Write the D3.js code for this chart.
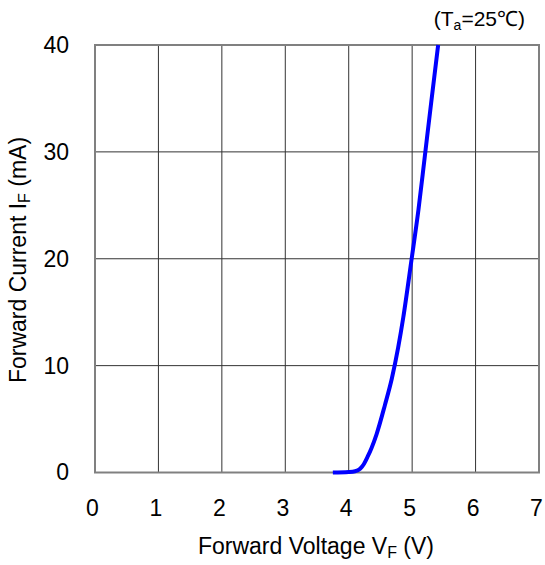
<!DOCTYPE html>
<html><head><meta charset="utf-8">
<script src="https://cdn.jsdelivr.net/npm/d3@7"></script>
<style>body{margin:0;background:#fff;} text{font-family:"Liberation Sans",Arial,sans-serif;fill:#000;}</style>
</head><body>
<svg id="c" width="545" height="565"></svg>
<script>
const voltage = [3.75, 4.0, 4.1, 4.18, 4.24, 4.3, 4.36, 4.44, 4.57, 4.68, 4.78, 4.86, 4.99, 5.1, 5.2, 5.3, 5.41];
const current = [0, 0.05, 0.12, 0.35, 0.8, 1.5, 2.3, 3.6, 6.3, 8.8, 11.7, 14.5, 19.9, 24.6, 29.6, 34.6, 40];
const xTicks = [0,1,2,3,4,5,6,7];
const yTicks = [0,10,20,30,40];

const svg = d3.select("#c");
const L=95, R=539, T=45, B=472.5;
const x = d3.scaleLinear().domain([0,7]).range([L,R]);
const y = d3.scaleLinear().domain([0,40]).range([B,T]);
const FF = "Liberation Sans, Arial, sans-serif";

// grid
svg.append("g").selectAll("line").data(xTicks.slice(1,-1)).join("line")
  .attr("x1",d=>x(d)).attr("x2",d=>x(d)).attr("y1",T).attr("y2",B)
  .attr("stroke","#333").attr("stroke-width",1);
svg.append("g").selectAll("line").data(yTicks.slice(1,-1)).join("line")
  .attr("y1",d=>y(d)).attr("y2",d=>y(d)).attr("x1",L).attr("x2",R)
  .attr("stroke","#333").attr("stroke-width",1);
svg.append("rect").attr("x",L).attr("y",T).attr("width",R-L).attr("height",B-T)
  .attr("fill","none").attr("stroke","#808080").attr("stroke-width",2);

// axes (labels only)
const xa = svg.append("g").attr("transform",`translate(0,${B})`)
  .call(d3.axisBottom(x).tickValues(xTicks).tickFormat(d3.format("d")).tickSize(0).tickPadding(27));
xa.select(".domain").remove();
xa.selectAll("text").attr("font-size",23).attr("font-family",FF).attr("dx",-3);
const ya = svg.append("g").attr("transform",`translate(${L},0)`)
  .call(d3.axisLeft(y).tickValues(yTicks).tickFormat(d3.format("d")).tickSize(0).tickPadding(26));
ya.select(".domain").remove();
ya.selectAll("text").attr("font-size",23).attr("font-family",FF);

// curve
const pts = voltage.map((v,i)=>[v,current[i]]);
svg.append("path").datum(pts)
  .attr("d", d3.line().x(d=>x(d[0])).y(d=>y(d[1])).curve(d3.curveMonotoneX))
  .attr("fill","none").attr("stroke","#0000ff").attr("stroke-width",4);

// titles
const xt = svg.append("text").attr("x",316).attr("y",554).attr("text-anchor","middle").attr("font-size",23);
xt.append("tspan").text("Forward Voltage V");
xt.append("tspan").attr("font-size",16).attr("dy",4).text("F");
xt.append("tspan").attr("dy",-4).text(" (V)");

const yt = svg.append("text").attr("transform","translate(26,260) rotate(-90)").attr("text-anchor","middle").attr("font-size",23);
yt.append("tspan").text("Forward Current I");
yt.append("tspan").attr("font-size",16).attr("dy",4).text("F");
yt.append("tspan").attr("dy",-4).text(" (mA)");

const an = svg.append("text").attr("x",525).attr("y",26).attr("text-anchor","end").attr("font-size",21);
an.append("tspan").text("(T");
an.append("tspan").attr("font-size",14).attr("dy",4).text("a");
an.append("tspan").attr("dy",-4).text("=25℃)");
</script>
</body></html>
